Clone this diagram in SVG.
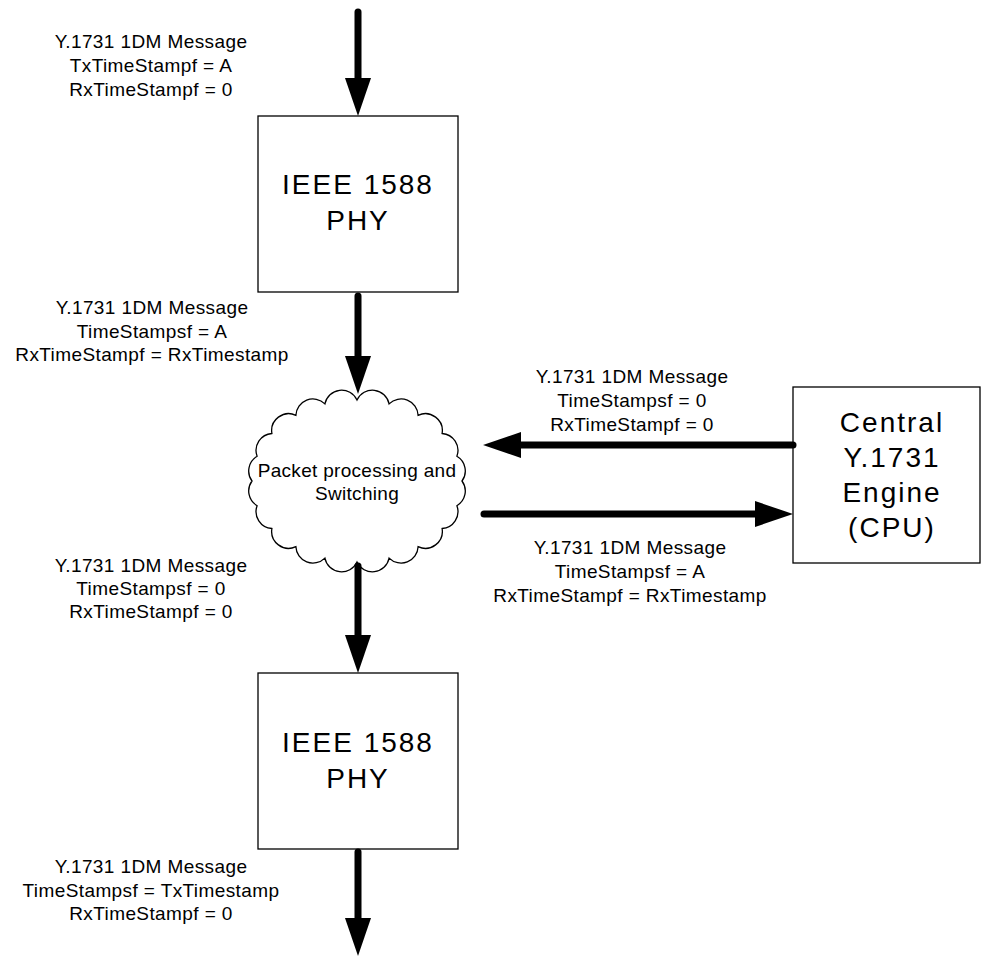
<svg xmlns="http://www.w3.org/2000/svg" width="981" height="956" viewBox="0 0 981 956">
<style>
.box{fill:#fff;stroke:#000;stroke-width:1.3}
.big{font-family:"Liberation Sans",Arial,sans-serif;font-size:28px;letter-spacing:2px;text-anchor:middle;fill:#000}
.lbl{font-family:"Liberation Sans",Arial,sans-serif;font-size:19px;letter-spacing:0.4px;text-anchor:middle;fill:#000}
.conn{stroke:#000;stroke-width:7;stroke-linecap:round;fill:none;marker-end:url(#ah)}
</style>
<defs>
<marker id="ah" markerUnits="userSpaceOnUse" markerWidth="40" markerHeight="28" refX="18" refY="13" orient="auto">
<path d="M0,0 L38,13 L0,26 Z" fill="#000"/>
</marker>
</defs>
<rect width="981" height="956" fill="#fff"/>
<g id="phy1">
<rect class="box" x="258" y="116" width="200" height="176"/>
<text class="big" x="358" y="194">IEEE 1588</text>
<text class="big" x="358" y="230">PHY</text>
</g>
<g id="cloud">
<path class="box" d="M462,481 A17,17 0 0 1 456.9,505.7 A17,17 0 0 1 442.1,528.5 A17,17 0 0 1 418.1,546.7 A17,17 0 0 1 389.1,558.1 A17,17 0 0 1 357,562 A17,17 0 0 1 324.9,558.1 A17,17 0 0 1 295.9,546.7 A17,17 0 0 1 271.9,528.5 A17,17 0 0 1 257.1,505.7 A17,17 0 0 1 252,481 A17,17 0 0 1 257.1,456.3 A17,17 0 0 1 271.9,433.5 A17,17 0 0 1 295.9,415.3 A17,17 0 0 1 324.9,403.9 A17,17 0 0 1 357,400 A17,17 0 0 1 389.1,403.9 A17,17 0 0 1 418.1,415.3 A17,17 0 0 1 442.1,433.5 A17,17 0 0 1 456.9,456.3 A17,17 0 0 1 462,481 Z"/>
<text class="lbl" x="357" y="477" style="letter-spacing:0.3px">Packet processing and</text>
<text class="lbl" x="357" y="500" style="letter-spacing:0.3px">Switching</text>
</g>
<g id="phy2">
<rect class="box" x="258" y="673" width="200" height="176"/>
<text class="big" x="358" y="752">IEEE 1588</text>
<text class="big" x="358" y="788">PHY</text>
</g>
<g id="cpu">
<rect class="box" x="793" y="387" width="187" height="176"/>
<text class="big" x="892" y="432">Central</text>
<text class="big" x="892" y="467">Y.1731</text>
<text class="big" x="892" y="502">Engine</text>
<text class="big" x="892" y="537">(CPU)</text>
</g>
<g id="connectors">
<line class="conn" x1="358" y1="12" x2="358" y2="96"/>
<line class="conn" x1="358" y1="296" x2="358" y2="374"/>
<line class="conn" x1="358" y1="566" x2="358" y2="653"/>
<line class="conn" x1="358" y1="852" x2="358" y2="936"/>
<line class="conn" x1="793" y1="445" x2="503" y2="445"/>
<line class="conn" x1="484" y1="514" x2="773" y2="514"/>
</g>
<g id="labels">
<text class="lbl" x="151" y="48">Y.1731 1DM Message</text>
<text class="lbl" x="151" y="72">TxTimeStampf = A</text>
<text class="lbl" x="151" y="96">RxTimeStampf = 0</text>
<text class="lbl" x="152" y="314">Y.1731 1DM Message</text>
<text class="lbl" x="152" y="338">TimeStampsf = A</text>
<text class="lbl" x="152" y="361">RxTimeStampf = RxTimestamp</text>
<text class="lbl" x="632" y="383">Y.1731 1DM Message</text>
<text class="lbl" x="632" y="407">TimeStampsf = 0</text>
<text class="lbl" x="632" y="431">RxTimeStampf = 0</text>
<text class="lbl" x="630" y="554">Y.1731 1DM Message</text>
<text class="lbl" x="630" y="578">TimeStampsf = A</text>
<text class="lbl" x="630" y="602">RxTimeStampf = RxTimestamp</text>
<text class="lbl" x="151" y="572">Y.1731 1DM Message</text>
<text class="lbl" x="151" y="595">TimeStampsf = 0</text>
<text class="lbl" x="151" y="618">RxTimeStampf = 0</text>
<text class="lbl" x="151" y="873">Y.1731 1DM Message</text>
<text class="lbl" x="151" y="897">TimeStampsf = TxTimestamp</text>
<text class="lbl" x="151" y="920">RxTimeStampf = 0</text>
</g>
</svg>
